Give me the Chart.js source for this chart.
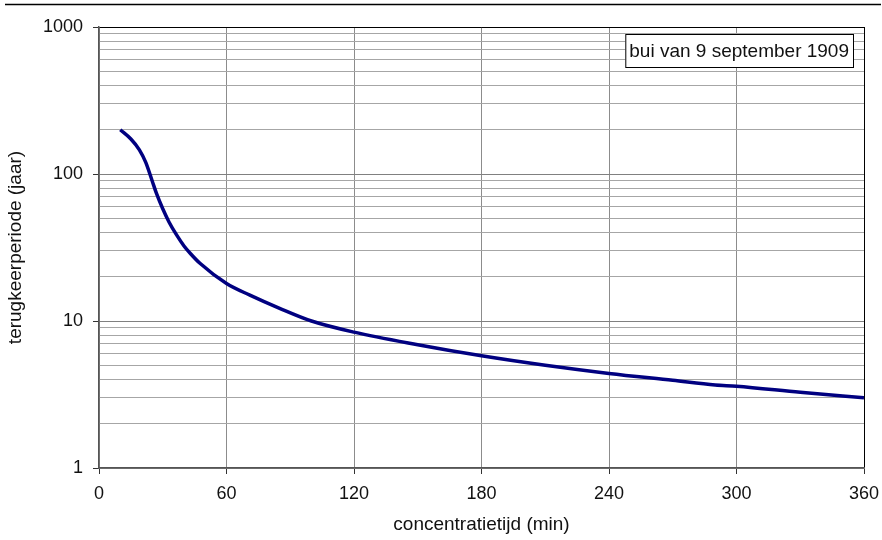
<!DOCTYPE html>
<html lang="nl">
<head>
<meta charset="UTF-8">
<title>Terugkeerperiode bui 9 september 1909</title>
<script src="https://cdn.jsdelivr.net/npm/chart.js"></script>
<style>
  html, body { margin: 0; padding: 0; background: #fff; }
  #wrap { width: 882px; height: 540px; position: relative; }
</style>
</head>
<body>
<div id="wrap"><canvas id="chart" width="882" height="540"></canvas></div>
<script>
// concentratietijd (min) and terugkeerperiode (jaar)
const minutes = [10, 15, 19, 22, 25, 27, 30, 33, 36.5, 40, 43, 47.5, 60, 71, 85, 100, 120, 150, 180, 210, 240, 270, 290, 300, 330, 360];
const returnPeriod = [200, 173, 146, 120, 90, 74, 58, 47, 38.5, 32.4, 28.8, 24.7, 18, 15, 12.2, 10, 8.4, 6.9, 5.8, 5.0, 4.4, 3.95, 3.67, 3.6, 3.27, 3.0];

const xTicks = [0, 60, 120, 180, 240, 300, 360];
const decades = [1, 10, 100, 1000];
const minorSteps = [2, 3, 4, 5, 6, 7, 8, 9];
const note = 'bui van 9 september 1909';

const yTicks = [];
decades.forEach(d => {
  yTicks.push(d);
  if (d < 1000) minorSteps.forEach(m => yTicks.push(d * m));
});

const tickFont = { family: 'Liberation Sans, Arial, sans-serif', size: 18 };
const titleFont = { family: 'Liberation Sans, Arial, sans-serif', size: 19 };

const extras = {
  id: 'extras',
  afterDraw(chart) {
    const c = chart.ctx;
    const area = chart.chartArea;
    c.save();
    // top rule across the page
    c.strokeStyle = '#000';
    c.lineWidth = 1.5;
    c.beginPath();
    c.moveTo(5, 4.5);
    c.lineTo(881, 4.5);
    c.stroke();
    // text box in the top right corner
    c.font = '19px Liberation Sans, Arial, sans-serif';
    const w = c.measureText(note).width + 8;
    const h = 33;
    const x = area.right - 11 - w;
    const y = area.top + 7;
    c.fillStyle = '#fff';
    c.fillRect(x, y, w, h);
    c.lineWidth = 1;
    c.strokeRect(x + 0.5, y + 0.5, w, h);
    c.fillStyle = '#111';
    c.textBaseline = 'middle';
    c.fillText(note, x + 4, y + h / 2 + 1);
    c.restore();
  }
};

new Chart(document.getElementById('chart'), {
  type: 'line',
  data: {
    datasets: [{
      data: minutes.map((m, i) => ({ x: m, y: returnPeriod[i] })),
      borderColor: '#000080',
      borderWidth: 3.5,
      pointRadius: 0,
      cubicInterpolationMode: 'monotone',
      fill: false
    }]
  },
  options: {
    responsive: false,
    animation: false,
    layout: { padding: { top: 27, right: 18, left: 0, bottom: 0 } },
    plugins: { legend: { display: false }, tooltip: { enabled: false } },
    scales: {
      x: {
        type: 'linear',
        min: 0,
        max: 360,
        afterBuildTicks: s => { s.ticks = xTicks.map(v => ({ value: v })); },
        afterFit: s => { s.height = 72; s.paddingLeft = 0; s.paddingRight = 0; },
        ticks: { color: '#111', font: tickFont, padding: 9, maxRotation: 0, autoSkip: false },
        grid: {
          color: ctx => ctx.tick && ctx.tick.value === 360 ? '#000' : '#8c8c8c',
          tickColor: '#333',
          tickLength: 6,
          lineWidth: 1
        },
        border: { color: '#555', width: 1.5 },
        title: { display: true, text: 'concentratietijd (min)', color: '#111', font: titleFont, padding: { top: 2 } }
      },
      y: {
        type: 'logarithmic',
        min: 1,
        max: 1000,
        afterBuildTicks: s => { s.ticks = yTicks.map(v => ({ value: v })); },
        afterFit: s => { s.width = 99; s.paddingTop = 0; s.paddingBottom = 0; },
        ticks: {
          color: '#111',
          font: tickFont,
          padding: 10,
          autoSkip: false,
          callback: v => decades.includes(v) ? String(v) : ''
        },
        grid: {
          color: ctx => {
            if (!ctx.tick) return '#aaa';
            if (ctx.tick.value === 1000) return '#000';
            return decades.includes(ctx.tick.value) ? '#808080' : '#a6a6a6';
          },
          tickColor: ctx => ctx.tick && decades.includes(ctx.tick.value) ? '#333' : 'rgba(0,0,0,0)',
          tickLength: 6,
          lineWidth: 1
        },
        border: { color: '#555', width: 1.5 },
        title: { display: true, text: 'terugkeerperiode (jaar)', color: '#111', font: titleFont, padding: { bottom: 2 } }
      }
    }
  },
  plugins: [extras]
});
</script>
</body>
</html>
